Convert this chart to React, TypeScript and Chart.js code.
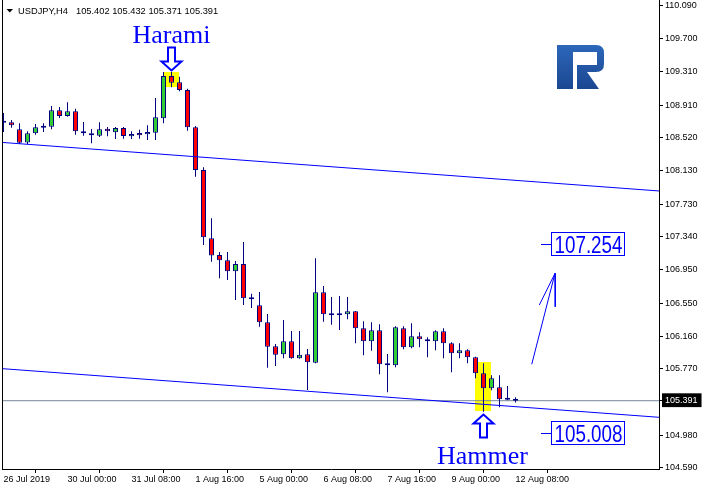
import React, { useEffect, useRef } from 'react';
import { Chart, registerables } from 'chart.js';

Chart.register(...registerables);

// ---------- data ----------
const symbolName = 'USDJPY,H4';
const lastQuote = ['105.402', '105.432', '105.371', '105.391'];

const xTickLabels = ['26 Jul 2019', '30 Jul 00:00', '31 Jul 08:00', '1 Aug 16:00', '5 Aug 00:00', '6 Aug 08:00', '7 Aug 16:00', '9 Aug 00:00', '12 Aug 08:00'];
const barsPerLabel = 8;

const yTickValues = [110.09, 109.7, 109.31, 108.91, 108.52, 108.13, 107.73, 107.34, 106.95, 106.55, 106.16, 105.77, 105.391, 104.98, 104.59];
const currentPrice = 105.391;

const opens = [
  108.712, 108.705, 108.622, 108.465, 108.575, 108.641, 108.653, 108.848, 108.780, 108.836,
  108.590, 108.566, 108.546, 108.629, 108.586, 108.638, 108.539, 108.578, 108.563, 108.582,
  108.753, 109.257, 109.182, 109.090, 108.646, 108.138, 107.325, 107.126, 107.063, 106.932,
  107.019, 106.610, 106.527, 106.325, 106.039, 105.944, 106.098, 105.896, 105.944, 105.844,
  106.682, 106.420, 106.408, 106.420, 106.455, 106.253, 106.098, 106.229, 105.825, 105.813,
  106.253, 106.027, 106.158, 106.122, 106.098, 106.217, 106.075, 105.955, 105.991, 105.908,
  105.717, 105.539, 105.551, 105.408, 105.402,
];
const highs = [
  108.816, 108.733, 108.694, 108.598, 108.685, 108.694, 108.900, 108.888, 108.944, 108.867,
  108.709, 108.626, 108.705, 108.650, 108.650, 108.650, 108.598, 108.617, 108.670, 108.995,
  109.304, 109.304, 109.248, 109.105, 108.661, 108.170, 107.563, 107.161, 107.161, 107.054,
  107.280, 106.665, 106.685, 106.423, 106.066, 106.352, 106.221, 106.221, 106.007, 107.086,
  106.757, 106.626, 106.638, 106.626, 106.460, 106.336, 106.325, 106.301, 105.947, 106.277,
  106.277, 106.313, 106.205, 106.146, 106.229, 106.253, 106.086, 106.075, 106.003, 105.915,
  105.836, 105.694, 105.694, 105.566, 105.432,
];
const lows = [
  108.590, 108.641, 108.447, 108.447, 108.558, 108.590, 108.622, 108.757, 108.772, 108.558,
  108.546, 108.455, 108.530, 108.539, 108.507, 108.510, 108.507, 108.510, 108.495, 108.495,
  108.694, 109.122, 109.075, 108.605, 108.058, 107.245, 107.046, 106.848, 106.828, 106.590,
  106.530, 106.495, 106.272, 105.784, 105.804, 105.896, 105.890, 105.890, 105.519, 105.836,
  106.332, 106.296, 106.233, 106.360, 106.075, 105.932, 105.986, 105.705, 105.491, 105.789,
  106.003, 106.015, 106.027, 105.908, 105.991, 105.896, 105.729, 105.896, 105.836, 105.658,
  105.260, 105.515, 105.313, 105.395, 105.371,
];
const closes = [
  108.700, 108.670, 108.463, 108.575, 108.646, 108.661, 108.848, 108.780, 108.836, 108.598,
  108.575, 108.551, 108.622, 108.598, 108.638, 108.542, 108.566, 108.551, 108.590, 108.765,
  109.257, 109.177, 109.090, 108.646, 108.138, 107.336, 107.120, 107.063, 106.932, 107.019,
  106.610, 106.598, 106.325, 106.034, 105.939, 106.098, 105.896, 105.939, 105.848, 106.682,
  106.420, 106.408, 106.420, 106.455, 106.253, 106.098, 106.229, 105.825, 105.813, 106.265,
  106.027, 106.158, 106.122, 106.098, 106.217, 106.075, 105.955, 105.991, 105.908, 105.717,
  105.539, 105.658, 105.408, 105.402, 105.391,
];

// channel lines (price at left edge, price at right edge of the plot)
const upperChannel = [108.465, 107.888];
const lowerChannel = [105.772, 105.1935];

// candlestick patterns
const patternNames = ['Harami', 'Hammer'];
const patternBars = [21, 60];
const patternBoxBars = [[20, 22], [59, 61]];
const patternBoxPrices = [[109.31, 109.12], [105.85, 105.27]];

// forecast arrow (bar index / price)
const arrowShaftX = [66.03, 68.94];
const arrowShaftY = [105.825, 106.908];
const arrowHeadX = [66.98, 68.94, 68.97];
const arrowHeadY = [106.53, 106.908, 106.51];

// target levels
const targetLevels = [107.254, 105.008];
const targetLeaderBar = 67.15;
const targetBoxBar = 68.375;

// ---------- scale ranges ----------
const X_MIN = -0.0625;
const X_MAX = 81.9375;
const Y_MIN = 104.578;
const Y_MAX = 110.1614;

const NAVY = '#000080';
const BULL = '#32cd32';
const BEAR = '#ff0000';
const BLUE = '#0000ff';
const AXIS_FONT = { family: '"Liberation Sans", Arial, sans-serif', size: 9 };

function hollowArrow(ctx: CanvasRenderingContext2D, cx: number, tipY: number, dir: number) {
  const headH = 9, headW = 10, shaftW = 3.5, shaftH = 14;
  ctx.beginPath();
  ctx.moveTo(cx, tipY);
  ctx.lineTo(cx - headW, tipY - dir * headH);
  ctx.lineTo(cx - shaftW, tipY - dir * headH);
  ctx.lineTo(cx - shaftW, tipY - dir * (headH + shaftH));
  ctx.lineTo(cx + shaftW, tipY - dir * (headH + shaftH));
  ctx.lineTo(cx + shaftW, tipY - dir * headH);
  ctx.lineTo(cx + headW, tipY - dir * headH);
  ctx.closePath();
  ctx.fillStyle = '#ffffff';
  ctx.fill();
  ctx.lineWidth = 2;
  ctx.strokeStyle = BLUE;
  ctx.stroke();
}

function drawLogo(ctx: CanvasRenderingContext2D) {
  const g = ctx.createLinearGradient(0, 45, 0, 90);
  g.addColorStop(0, '#2c67ba');
  g.addColorStop(1, '#1b4690');
  ctx.fillStyle = g;
  ctx.fillRect(557, 45, 16, 44);
  ctx.beginPath();
  ctx.moveTo(573, 45);
  ctx.lineTo(596, 45);
  ctx.quadraticCurveTo(604, 45, 604, 53);
  ctx.lineTo(604, 64);
  ctx.quadraticCurveTo(604, 72, 596, 72);
  ctx.lineTo(577, 72);
  ctx.lineTo(577, 65);
  ctx.lineTo(597, 65);
  ctx.lineTo(597, 52);
  ctx.lineTo(573, 52);
  ctx.closePath();
  ctx.fill();
  ctx.beginPath();
  ctx.moveTo(577, 72);
  ctx.lineTo(587, 72);
  ctx.lineTo(599, 89);
  ctx.lineTo(577, 89);
  ctx.closePath();
  ctx.fill();
}

const overlayPlugin = {
  id: 'mtOverlay',
  beforeDraw(chart: any) {
    const ctx = chart.ctx;
    ctx.save();
    ctx.fillStyle = '#ffffff';
    ctx.fillRect(0, 0, chart.width, chart.height);
    ctx.restore();
  },
  beforeDatasetsDraw(chart: any) {
    const { ctx, scales } = chart;
    const x = scales.x, y = scales.y;
    ctx.save();
    ctx.fillStyle = '#ffff00';
    patternBoxBars.forEach((r, i) => {
      const x0 = Math.floor(x.getPixelForValue(r[0]));
      const x1 = Math.floor(x.getPixelForValue(r[1]));
      const y0 = Math.round(y.getPixelForValue(patternBoxPrices[i][0]));
      const y1 = Math.round(y.getPixelForValue(patternBoxPrices[i][1]));
      ctx.fillRect(x0, y0, x1 - x0, y1 - y0);
    });
    ctx.restore();
  },
  afterDatasetsDraw(chart: any) {
    const { ctx, scales } = chart;
    const x = scales.x, y = scales.y;
    ctx.save();
    // pattern arrows and names
    patternBars.forEach((b, i) => {
      const cx = x.getPixelForValue(b);
      ctx.font = '26px "Liberation Serif", "Times New Roman", serif';
      ctx.textAlign = 'center';
      ctx.textBaseline = 'alphabetic';
      if (i === 0) {
        const tip = y.getPixelForValue(highs[b]) - 1.5;
        hollowArrow(ctx, cx, tip, 1);
        ctx.fillStyle = BLUE;
        ctx.fillText(patternNames[i], cx, tip - 27.5);
      } else {
        const tip = y.getPixelForValue(lows[b]) + 2.8;
        hollowArrow(ctx, cx, tip, -1);
        ctx.fillStyle = BLUE;
        ctx.fillText(patternNames[i], cx - 1, tip + 49);
      }
    });
    // target level labels
    targetLevels.forEach((lvl) => {
      const py = Math.round(y.getPixelForValue(lvl)) + 0.5;
      const lx = Math.round(x.getPixelForValue(targetLeaderBar));
      const bx = Math.round(x.getPixelForValue(targetBoxBar)) + 0.5;
      ctx.strokeStyle = BLUE;
      ctx.lineWidth = 1;
      ctx.beginPath();
      ctx.moveTo(lx, py);
      ctx.lineTo(bx, py);
      ctx.stroke();
      ctx.strokeRect(bx, py - 12, 73, 23);
      const txt = lvl.toFixed(3);
      ctx.font = '24px "Liberation Sans", Arial, sans-serif';
      ctx.textAlign = 'left';
      ctx.textBaseline = 'alphabetic';
      const w = ctx.measureText(txt).width;
      ctx.save();
      ctx.translate(bx + 3, py + 8.5);
      ctx.scale(68 / w, 1);
      ctx.fillStyle = BLUE;
      ctx.fillText(txt, 0, 0);
      ctx.restore();
    });
    ctx.restore();
  },
  afterDraw(chart: any) {
    const { ctx, chartArea } = chart;
    ctx.save();
    // left frame line
    ctx.strokeStyle = '#000000';
    ctx.lineWidth = 1;
    ctx.beginPath();
    ctx.moveTo(chartArea.left - 0.5, 0);
    ctx.lineTo(chartArea.left - 0.5, chartArea.bottom + 1);
    ctx.stroke();
    // header
    ctx.fillStyle = '#000000';
    ctx.beginPath();
    ctx.moveTo(6.5, 9);
    ctx.lineTo(13, 9);
    ctx.lineTo(9.75, 12.5);
    ctx.closePath();
    ctx.fill();
    ctx.font = '9.3px "Liberation Sans", Arial, sans-serif';
    ctx.textAlign = 'left';
    ctx.textBaseline = 'alphabetic';
    ctx.fillText(symbolName, 18, 14);
    ctx.fillText(lastQuote.join(' '), 76, 14);
    drawLogo(ctx);
    ctx.restore();
  },
};

export default function App() {
  const canvasRef = useRef<HTMLCanvasElement | null>(null);

  useEffect(() => {
    const canvas = canvasRef.current;
    if (!canvas) return;
    const idx = opens.map((_, i) => i);
    const bodyColors = idx.map((i) => (closes[i] >= opens[i] ? BULL : BEAR));

    const chart = new Chart(canvas, {
      type: 'bar',
      data: {
        datasets: [
          {
            type: 'line',
            label: 'upper channel',
            data: [{ x: X_MIN, y: upperChannel[0] }, { x: X_MAX, y: upperChannel[1] }],
            borderColor: BLUE, borderWidth: 1, pointRadius: 0, tension: 0, fill: false, order: 0,
          },
          {
            type: 'line',
            label: 'lower channel',
            data: [{ x: X_MIN, y: lowerChannel[0] }, { x: X_MAX, y: lowerChannel[1] }],
            borderColor: BLUE, borderWidth: 1, pointRadius: 0, tension: 0, fill: false, order: 0,
          },
          {
            type: 'line',
            label: 'price',
            data: [{ x: X_MIN, y: currentPrice }, { x: X_MAX, y: currentPrice }],
            borderColor: '#778899', borderWidth: 1, pointRadius: 0, tension: 0, fill: false, order: 4,
          },
          {
            type: 'line',
            label: 'forecast',
            data: arrowShaftX.map((v, i) => ({ x: v, y: arrowShaftY[i] })),
            borderColor: BLUE, borderWidth: 1, pointRadius: 0, tension: 0, fill: false, order: 0,
          },
          {
            type: 'line',
            label: 'forecast head',
            data: arrowHeadX.map((v, i) => ({ x: v, y: arrowHeadY[i] })),
            borderColor: BLUE, borderWidth: 1, pointRadius: 0, tension: 0, fill: false, order: 0,
          },
          {
            type: 'bar',
            label: 'wicks',
            data: idx.map((i) => ({ x: i, y: [lows[i], highs[i]] })) as any,
            backgroundColor: NAVY,
            borderWidth: 0,
            barThickness: 1,
            maxBarThickness: 1,
            grouped: false,
            inflateAmount: 0,
            order: 3,
          } as any,
          {
            type: 'bar',
            label: 'bodies',
            data: idx.map((i) => ({ x: i, y: [Math.min(opens[i], closes[i]), Math.max(opens[i], closes[i])] })) as any,
            backgroundColor: bodyColors,
            borderColor: NAVY,
            borderWidth: 1,
            borderSkipped: false,
            barThickness: 5,
            maxBarThickness: 5,
            minBarLength: 2,
            grouped: false,
            inflateAmount: 0,
            order: 2,
          } as any,
        ],
      },
      options: {
        responsive: false,
        devicePixelRatio: 1,
        animation: false,
        events: [],
        layout: { padding: { left: 3, right: 0, top: 0, bottom: 0 } },
        plugins: { legend: { display: false }, tooltip: { enabled: false }, title: { display: false } },
        scales: {
          x: {
            type: 'linear',
            min: X_MIN,
            max: X_MAX,
            offset: false,
            afterBuildTicks: (s: any) => {
              s.ticks = xTickLabels.map((_, i) => ({ value: i * barsPerLabel }));
            },
            afterFit: (s: any) => {
              s.height = 22;
              s.paddingLeft = 0;
              s.paddingRight = 0;
            },
            grid: { drawOnChartArea: false, drawTicks: true, tickLength: 4, color: '#000000' },
            border: { display: true, color: '#000000', width: 1 },
            ticks: {
              autoSkip: false,
              maxRotation: 0,
              minRotation: 0,
              align: 'start',
              padding: 1,
              color: '#000000',
              font: AXIS_FONT,
              callback: (v: any) => xTickLabels[Math.round(Number(v) / barsPerLabel)] ?? '',
            },
          },
          y: {
            type: 'linear',
            position: 'right',
            min: Y_MIN,
            max: Y_MAX,
            afterBuildTicks: (s: any) => {
              s.ticks = yTickValues.map((v) => ({ value: v }));
            },
            afterFit: (s: any) => {
              s.width = 46;
              s.paddingTop = 0;
              s.paddingBottom = 0;
            },
            grid: { drawOnChartArea: false, drawTicks: true, tickLength: 4, color: '#000000' },
            border: { display: true, color: '#000000', width: 1 },
            ticks: {
              padding: 2,
              font: AXIS_FONT,
              color: (c: any) => (c.tick && c.tick.value === currentPrice ? '#ffffff' : '#000000'),
              showLabelBackdrop: (c: any) => !!(c.tick && c.tick.value === currentPrice),
              backdropColor: '#000000',
              backdropPadding: { left: 3, right: 4, top: 2, bottom: 1 },
              callback: (v: any) => Number(v).toFixed(3),
            },
          },
        },
      } as any,
      plugins: [overlayPlugin],
    });
    return () => chart.destroy();
  }, []);

  return (
    <div style={{ position: 'fixed', left: 0, top: 0, width: 705, height: 491, background: '#fff' }}>
      <canvas ref={canvasRef} width={705} height={491} style={{ display: 'block', width: 705, height: 491 }} />
    </div>
  );
}
